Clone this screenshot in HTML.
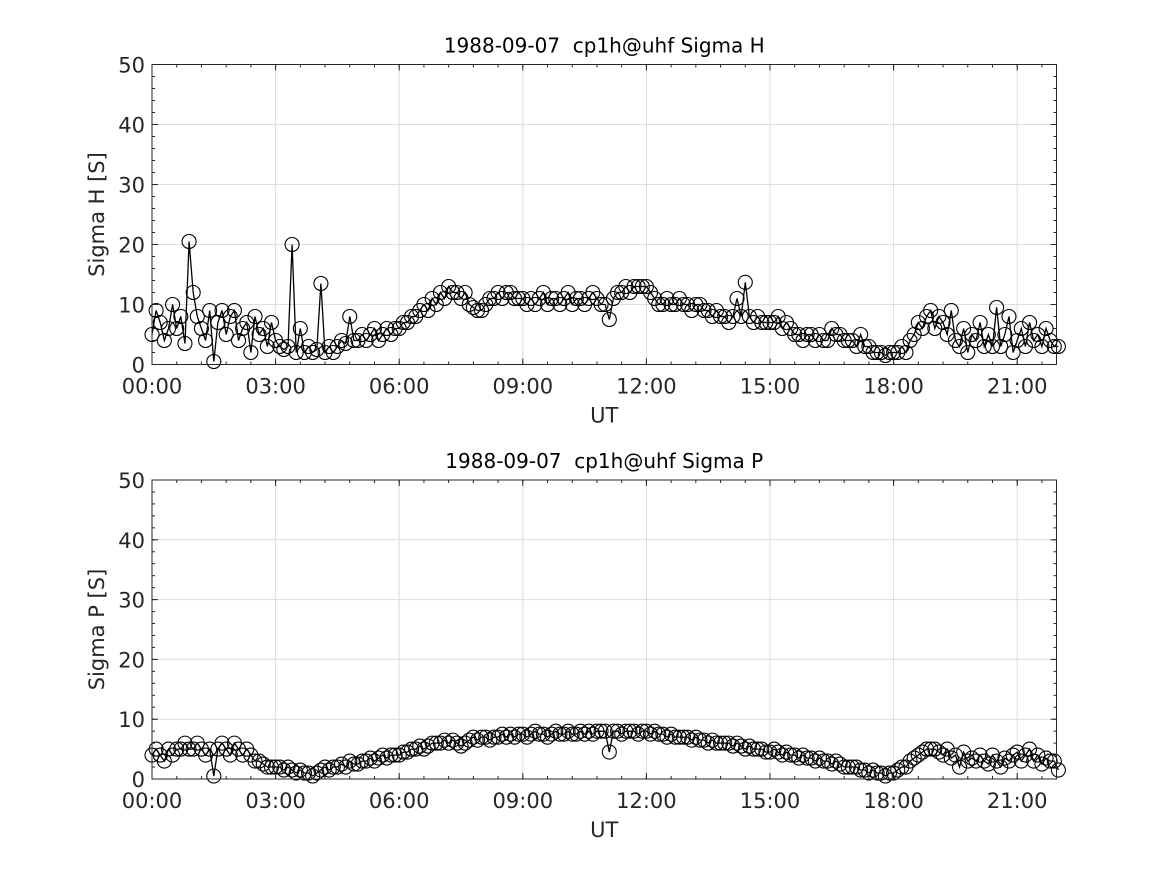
<!DOCTYPE html>
<html><head><meta charset="utf-8"><style>
body{margin:0;background:#fff}
svg{display:block;font-family:"DejaVu Sans","Liberation Sans",sans-serif}
text{white-space:pre}
</style></head><body>
<svg id="fig" width="1167" height="875" xmlns="http://www.w3.org/2000/svg"></svg>
<script>
const sigmaH = [
5,9,7,4,6,10,6,8,3.5,20.5,
12,8,6,4,9,0.5,7,9,5,8,
9,4,6,7,2,8,5,6,3,7,
4,3,2.5,3,20,2,6,2,3,2,
2.5,13.5,2,3,2,3,4,3.5,8,4,
4,5,4,5,6,4,5,6,5,6,
6,7,7,8,8,9,10,9,11,10,
12,11,13,12,12,11,12,10,9.5,9,
9,10,11,11,12,11,12,12,11,11,
11,10,11,10,11,12,10,11,11,10,
11,12,10,11,11,10,11,12,11,10,
10,7.5,11,12,12,13,12,13,13,13,
13,12,11,10,10,11,10,10,11,10,
10,9,10,10,9,9,8,9,8,8,
7,8,11,8,13.7,8,7,8,7,7,
7,7,8,6,7,6,5,5,4,5,
5,4,5,4,4,6,5,5,4,4,
4,3,5,3,3,2,2,2,1.5,2,
2,2,3,2,4,5,7,6,8,9,
6,8,7,5,9,4,3,6,2,5,
4,7,3,5,3,9.5,3,5,8,2,
4,6,3,7,4,5,3,6,4,3,
3];
const sigmaP = [
4,5,4,3,5,4,5,5,6,5,
5,6,5,4,5,0.5,5,6,5,4,
6,5,4,5,4,3,3,2.5,2,2,
2,2,1.5,2,1.5,1,1.5,1,1,0.5,
1,1.5,2,1.5,2,2,2.5,2,3,2.5,
2.5,3,3,3.5,3,3.5,4,3.5,4,4,
4,4.5,4.5,5,5,5.5,5,5.5,6,6,
6,6.5,6,6.5,6,5.5,6,6.5,7,6.5,
7,7,6.5,7,7,7.5,7,7.5,7,7.5,
7.5,7,7.5,8,7.5,7.5,7,7.5,8,7.5,
7.5,8,7.5,7.5,8,7.5,8,7.5,8,8,
8,4.5,8,8,7.5,8,8,8,7.5,8,
8,7.5,8,7.5,7.5,7,7.5,7,7,7,
7,6.5,7,6.5,6.5,6,6.5,6,6,6,
6,5.5,6,5.5,5,5.5,5,5,5,4.5,
4.5,5,4.5,4,4.5,4,4,3.5,4,3.5,
3.5,3,3.5,3,3,2.5,3,2.5,2,2,
2,2,1.5,1.5,1,1.5,1,1,0.5,1,
1,1.5,2,2,3,3.5,4,4.5,5,5,
5,4.5,4,5,3.5,4,2,4.5,3,3.5,
3,4,3,2.5,4,3,2,3.5,3,4,
4.5,3,4,5,3,4,2.5,3.5,3,3,
1.5];
const xTickHours = [0,3,6,9,12,15,18,21];
const xTickLabels = ["00:00","03:00","06:00","09:00","12:00","15:00","18:00","21:00"];
const yTicks = [0,10,20,30,40,50];
const stepHours = 0.1;

const NS="http://www.w3.org/2000/svg";
const svg=document.getElementById('fig');
function mk(tag,attrs,parent){const e=document.createElementNS(NS,tag);for(const k in attrs)e.setAttribute(k,attrs[k]);(parent||svg).appendChild(e);return e;}
const L=152,R=1056.5,xMaxH=(R-L)/41.2;
function xs(h){return L+h*41.2;}

function panel(top,bottom,data,title,ylabel,key){
  const g=mk('g',{});
  
  
  const ys=v=>bottom-(v/50)*(bottom-top);
  xTickHours.forEach(h=>{const l=mk('line',{x1:xs(h),x2:xs(h),y1:top,y2:bottom,stroke:'#dcdcdc','stroke-width':1},g);
    });
  yTicks.forEach(v=>{const l=mk('line',{x1:L,x2:R,y1:ys(v),y2:ys(v),stroke:'#dcdcdc','stroke-width':1},g);
    });
  for(let h=0;h<=xMaxH;h+=0.6){const x=xs(h);
    mk('line',{x1:x,x2:x,y1:bottom,y2:bottom-3,stroke:'#262626'},g);
    mk('line',{x1:x,x2:x,y1:top,y2:top+3,stroke:'#262626'},g);}
  for(let v=0;v<=50;v+=2){const y=ys(v);
    mk('line',{x1:L,x2:L+3,y1:y,y2:y,stroke:'#262626'},g);
    mk('line',{x1:R,x2:R-3,y1:y,y2:y,stroke:'#262626'},g);}
  xTickHours.forEach((h,i)=>{const x=xs(h);
    mk('line',{x1:x,x2:x,y1:bottom,y2:bottom-6,stroke:'#262626'},g);
    mk('line',{x1:x,x2:x,y1:top,y2:top+6,stroke:'#262626'},g);
    const t=mk('text',{x:x,y:bottom+29,'text-anchor':'middle','font-size':21,fill:'#262626'},g);
    t.textContent=xTickLabels[i];
    });
  yTicks.forEach(v=>{const y=ys(v);
    mk('line',{x1:L,x2:L+6,y1:y,y2:y,stroke:'#262626'},g);
    mk('line',{x1:R,x2:R-6,y1:y,y2:y,stroke:'#262626'},g);
    const t=mk('text',{x:L-7,y:y+8,'text-anchor':'end','font-size':21,fill:'#262626'},g);
    t.textContent=v;
    });
  const pts=data.map((v,i)=>xs(i*stepHours).toFixed(1)+','+ys(v).toFixed(1)).join(' ');
  const pl=mk('polyline',{points:pts,fill:'none',stroke:'#000','stroke-width':1.3},g);
  
  data.forEach((v,i)=>{const c=mk('circle',{cx:xs(i*stepHours),cy:ys(v),r:7,fill:'none',stroke:'#000','stroke-width':1.1},g);
    });
  const b=mk('rect',{x:L,y:top,width:R-L,height:bottom-top,fill:'none',stroke:'#262626','stroke-width':1},g);
  
  const tt=mk('text',{x:(L+R)/2,y:top-12,'text-anchor':'middle','font-size':20,fill:'#000'},g);
  tt.textContent=title;
  const xl=mk('text',{x:(L+R)/2,y:bottom+58,'text-anchor':'middle','font-size':21,fill:'#262626'},g);
  xl.textContent='UT';
  const cy=(top+bottom)/2;
  const yl=mk('text',{x:104,y:cy,'text-anchor':'middle','font-size':21,fill:'#262626',transform:'rotate(-90 104 '+cy+')'},g);
  yl.textContent=ylabel;
}
panel(64.5,364.5,sigmaH,'1988-09-07  cp1h@uhf Sigma H','Sigma H [S]','sigma-h');
panel(480,779,sigmaP,'1988-09-07  cp1h@uhf Sigma P','Sigma P [S]','sigma-p');
</script>
</body></html>
